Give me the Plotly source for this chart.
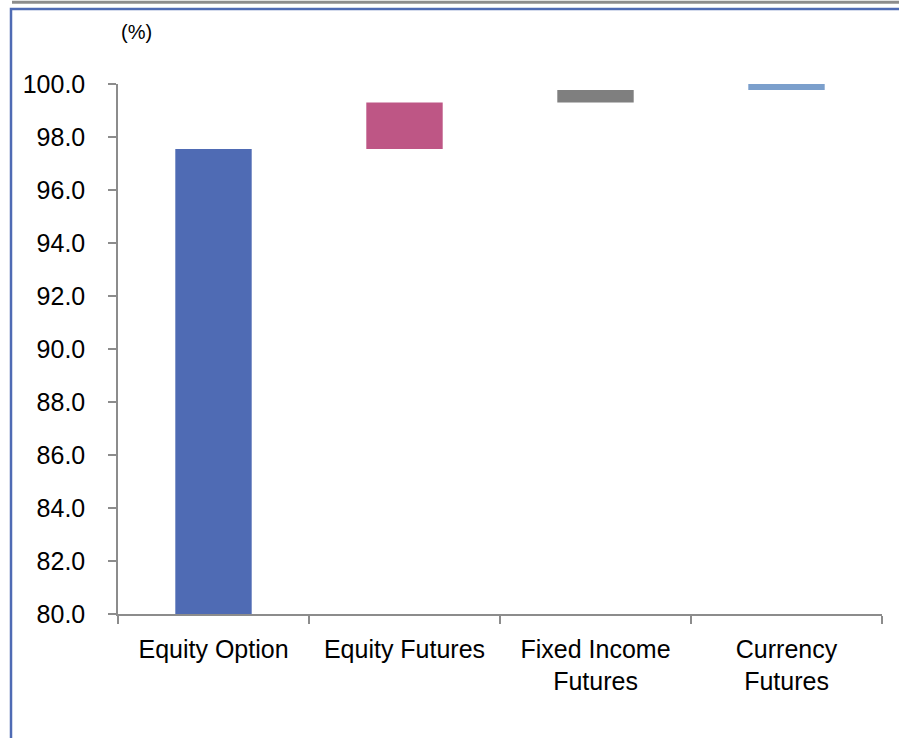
import plotly.graph_objects as go

categories = ["Equity Option", "Equity Futures", "Fixed Income<br>Futures", "Currency<br>Futures"]
shares = [97.55, 1.75, 0.47, 0.23]
colors = ["#4F6BB4", "#BE5685", "#7F7F7F", "#7B9FCC"]
y_ticks = [80, 82, 84, 86, 88, 90, 92, 94, 96, 98, 100]

bases = []
acc = 0.0
for i, s in enumerate(shares):
    bases.append(acc)
    acc += s

W, H = 899, 738
ML, MR, MT, MB = 118, 17, 84, 124
PW = W - ML - MR
PH = H - MT - MB


def px(x):
    return (x - ML) / PW


def py(y):
    return (H - MB - y) / PH


fig = go.Figure()
fig.add_trace(go.Bar(
    x=categories,
    y=shares,
    base=bases,
    width=0.4,
    marker=dict(color=colors, line=dict(width=0)),
    showlegend=False,
    hoverinfo="skip",
))

fig.update_layout(
    width=W, height=H,
    margin=dict(l=ML, r=MR, t=MT, b=MB, pad=0),
    paper_bgcolor="white",
    plot_bgcolor="white",
    font=dict(family="Liberation Sans, Arial, sans-serif", color="#000000", size=25),
    xaxis=dict(
        type="category",
        tickson="boundaries",
        ticks="outside",
        ticklen=8,
        tickwidth=1.5,
        tickcolor="#8C8C8C",
        showline=True,
        linecolor="#8C8C8C",
        linewidth=1.5,
        showgrid=False,
        zeroline=False,
        tickfont=dict(size=25),
        ticklabelstandoff=12,
    ),
    yaxis=dict(
        range=[80, 100],
        tickvals=y_ticks,
        ticktext=[f"{v:.1f}" for v in y_ticks],
        ticks="outside",
        ticklen=8,
        tickwidth=1.5,
        tickcolor="#8C8C8C",
        showline=True,
        linecolor="#8C8C8C",
        linewidth=1.5,
        showgrid=False,
        zeroline=False,
        tickfont=dict(size=25),
        ticklabelstandoff=18,
    ),
    shapes=[
        dict(type="line", xref="paper", yref="paper",
             x0=px(12), x1=px(905), y0=py(2.2), y1=py(2.2),
             line=dict(color="#8C8C8C", width=3)),
        dict(type="path", xref="paper", yref="paper",
             path=f"M {px(11)},{py(740)} L {px(11)},{py(9)} L {px(905)},{py(9)}",
             line=dict(color="#4F6BB4", width=2.5)),
    ],
    annotations=[
        dict(text="(%)", xref="paper", yref="paper", x=px(136), y=py(32),
             xanchor="center", yanchor="middle", showarrow=False,
             font=dict(size=20, color="#000000")),
    ],
)

fig.write_html(
    "out.html",
    config={"displayModeBar": False},
    post_script="document.body.style.margin='0';document.body.style.padding='0';",
)
